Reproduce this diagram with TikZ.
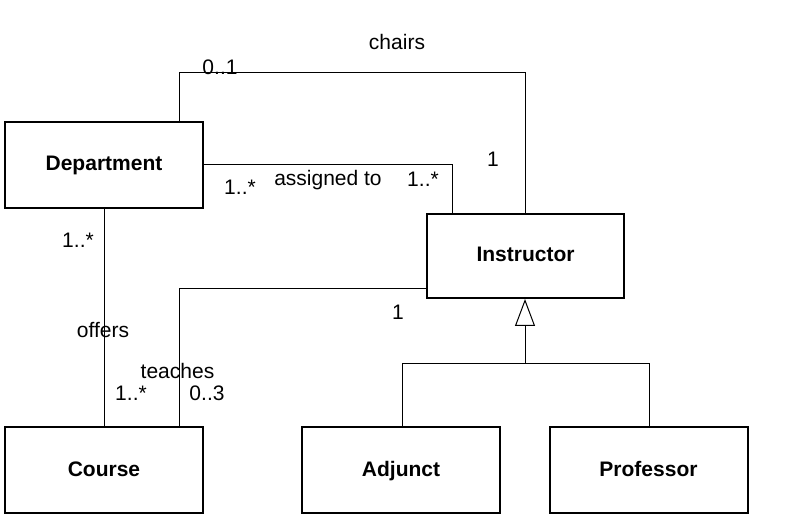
\documentclass[tikz,border=0pt]{standalone}
\usepackage{fontspec}
\setmainfont{Liberation Sans}
\usetikzlibrary{arrows.meta}
\begin{document}
\begin{tikzpicture}[x=1pt,y=-1pt,
  font=\fontsize{21}{25}\selectfont,
  classbox/.style={draw,line width=2pt,rectangle,inner sep=0pt,text height=15pt,text depth=3pt,font=\fontsize{21}{25}\selectfont\bfseries},
  conn/.style={line width=1pt},
  lbl/.style={inner sep=0pt,anchor=base}]
\useasboundingbox[fill=white] (0,0) rectangle (801,529);
% classes
\node[classbox,minimum width=198pt,minimum height=86pt] (dept) at (104,165) {Department};
\node[classbox,minimum width=197pt,minimum height=84pt] (inst) at (525.5,256) {Instructor};
\node[classbox,minimum width=198pt,minimum height=86pt] (course) at (104,470) {Course};
\node[classbox,minimum width=198pt,minimum height=86pt] (adj) at (401,470) {Adjunct};
\node[classbox,minimum width=198pt,minimum height=86pt] (prof) at (648.5,470) {Professor};
% helper coordinates
\coordinate (c1) at (179,73);
\coordinate (c2) at (525,73);
\coordinate (a1) at (452,165);
\coordinate (t1) at (179,289);
\coordinate (g1) at (525,364);
\coordinate (g2) at (402,364);
\coordinate (g3) at (649,364);
% chairs
\draw[conn] (dept.north -| c1) -- (c1) -- (c2) -- (inst.north -| c2);
% assigned to
\draw[conn] (dept.east) -- (a1) -- (inst.north -| a1);
% offers
\draw[conn] (dept.south) -- (course.north);
% teaches
\draw[conn] (inst.west |- t1) -- (t1) -- (course.north -| t1);
% generalization
\draw[conn] (adj.north -| g2) -- (g2) -- (g3) -- (prof.north -| g3);
\draw[conn,-{Triangle[open,length=27pt,width=20pt]}] (g1) -- (inst.south -| g1);
% labels
\node[lbl] (lchairs) at (397,50) {chairs};
\node[lbl] (lch01) at (220,75) {0..1};
\node[lbl] (lch1) at (493,167) {1};
\node[lbl] (las1) at (240,195) {1..*};
\node[lbl] (lass) at (328,186) {assigned to};
\node[lbl] (las2) at (423,187) {1..*};
\node[lbl] (lof1) at (78,248) {1..*};
\node[lbl] (loff) at (103,338) {offers};
\node[lbl] (lof2) at (131,400) {1..*};
\node[lbl] (lteach) at (177.5,378) {teaches};
\node[lbl] (lte03) at (207,400) {0..3};
\node[lbl] (lte1) at (398,320) {1};
\end{tikzpicture}
\end{document}
